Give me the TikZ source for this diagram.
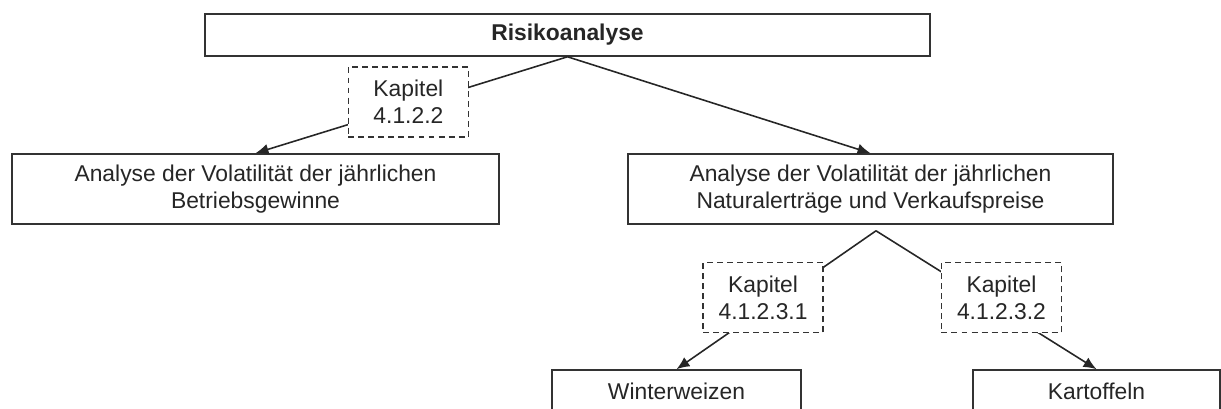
\documentclass[tikz,border=0pt]{standalone}
\usepackage{fontspec}
\setmainfont{Liberation Sans}
\usetikzlibrary{calc,arrows.meta}

\begin{document}
\begin{tikzpicture}[box/.style={draw=black!80,line width=0.9pt,fill=white,align=center,font=\fontsize{13}{15.3}\selectfont,text=black!85,inner sep=2pt},
    kapitel/.style={box,dash pattern=on 3.4pt off 2.3pt,minimum width=2.4cm,minimum height=1.4cm},
    link/.style={draw=black!85,line width=0.9pt,-{Latex[length=2.6mm,width=2.2mm]}}]
      \useasboundingbox (0,0) rectangle (24.42,-8.16);
      \clip (0,0) rectangle (24.42,-8.16);

      \node[box,minimum width=14.5cm,minimum height=0.84cm] (risiko) at (11.35,-0.70) {\textbf{Risikoanalyse}};
      \node[box,minimum width=9.74cm,minimum height=1.4cm] (betrieb) at (5.11,-3.78) {Analyse der Volatilität der jährlichen\\Betriebsgewinne};
      \node[box,minimum width=9.7cm,minimum height=1.4cm] (natural) at (17.41,-3.78) {Analyse der Volatilität der jährlichen\\Naturalerträge und Verkaufspreise};
      \node[box,minimum width=4.98cm,minimum height=0.84cm] (weizen) at (13.53,-7.82) {Winterweizen};
      \node[box,minimum width=4.94cm,minimum height=0.84cm] (kartoffel) at (21.93,-7.82) {Kartoffeln};

      \coordinate (gabel) at ($(natural.south)+(0.11,-0.12)$);

      \draw[link] (risiko.south) -- node[kapitel,pos=0.51,yshift=0.08cm] (kap1) {Kapitel\\4.1.2.2} (betrieb.north);
      \draw[link] (risiko.south) -- (natural.north);
      \draw[link] (gabel) -- node[kapitel,pos=0.566,yshift=0.23cm] (kap2) {Kapitel\\4.1.2.3.1} (weizen.north);
      \draw[link] (gabel) -- node[kapitel,pos=0.569,yshift=0.24cm] (kap3) {Kapitel\\4.1.2.3.2} (kartoffel.north);
    \end{tikzpicture}
\end{document}
